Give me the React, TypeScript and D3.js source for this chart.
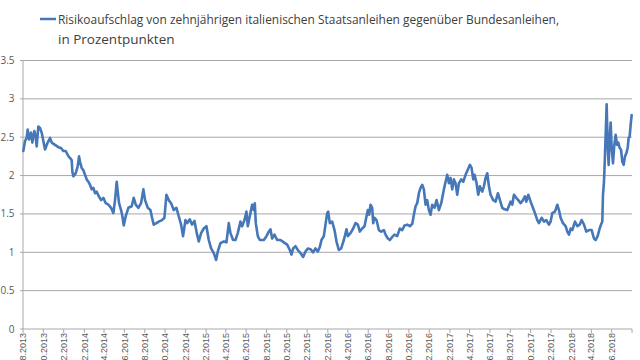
import React from "react";
import * as d3 from "d3";

const dates: string[] = [
  "2013-08-02","2013-08-07","2013-08-12","2013-08-15","2013-08-19","2013-08-25","2013-08-29","2013-09-04","2013-09-08","2013-09-11",
  "2013-09-16","2013-09-21","2013-09-26","2013-10-01","2013-10-06","2013-10-14","2013-10-21","2013-10-26","2013-11-05","2013-11-15",
  "2013-11-23","2013-11-30","2013-12-07","2013-12-13","2013-12-17","2013-12-22","2013-12-25","2013-12-27","2013-12-30","2014-01-06",
  "2014-01-12","2014-01-16","2014-01-19","2014-01-24","2014-01-29","2014-02-03","2014-02-08","2014-02-13","2014-02-18","2014-02-23",
  "2014-02-28","2014-03-05","2014-03-10","2014-03-15","2014-03-23","2014-03-30","2014-04-06","2014-04-14","2014-04-22","2014-04-29",
  "2014-05-04","2014-05-09","2014-05-12","2014-05-16","2014-05-22","2014-05-26","2014-05-30","2014-06-05","2014-06-13","2014-06-23",
  "2014-06-29","2014-07-05","2014-07-13","2014-07-21","2014-07-28","2014-08-02","2014-08-10","2014-08-18","2014-08-23","2014-08-28",
  "2014-09-05","2014-09-12","2014-09-22","2014-09-29","2014-10-05","2014-10-12","2014-10-19","2014-10-27","2014-11-04","2014-11-11",
  "2014-11-18","2014-11-24","2014-12-01","2014-12-06","2014-12-14","2014-12-21","2014-12-28","2015-01-05","2015-01-10","2015-01-17",
  "2015-01-25","2015-02-02","2015-02-09","2015-02-16","2015-02-24","2015-03-03","2015-03-08","2015-03-16","2015-03-26","2015-04-03",
  "2015-04-10","2015-04-15","2015-04-23","2015-04-30","2015-05-07","2015-05-15","2015-05-20","2015-05-27","2015-06-02","2015-06-06",
  "2015-06-12","2015-06-19","2015-06-24","2015-06-27","2015-06-30","2015-07-06","2015-07-12","2015-07-24","2015-08-01","2015-08-08",
  "2015-08-13","2015-08-18","2015-08-25","2015-09-02","2015-09-12","2015-09-22","2015-10-02","2015-10-10","2015-10-15","2015-10-20",
  "2015-10-27","2015-11-03","2015-11-11","2015-11-19","2015-11-26","2015-12-03","2015-12-11","2015-12-19","2015-12-26","2016-01-02",
  "2016-01-08","2016-01-13","2016-01-20","2016-01-25","2016-01-30","2016-02-02","2016-02-07","2016-02-14","2016-02-21","2016-02-27",
  "2016-03-05","2016-03-12","2016-03-20","2016-03-28","2016-04-01","2016-04-09","2016-04-17","2016-04-24","2016-05-01","2016-05-07",
  "2016-05-14","2016-05-21","2016-05-27","2016-05-31","2016-06-04","2016-06-08","2016-06-13","2016-06-16","2016-06-20","2016-06-26",
  "2016-07-03","2016-07-10","2016-07-18","2016-07-23","2016-07-30","2016-08-05","2016-08-12","2016-08-19","2016-08-27","2016-09-04",
  "2016-09-11","2016-09-18","2016-09-26","2016-10-04","2016-10-11","2016-10-16","2016-10-21","2016-10-26","2016-10-31","2016-11-05",
  "2016-11-10","2016-11-15","2016-11-20","2016-11-25","2016-11-30","2016-12-05","2016-12-10","2016-12-17","2016-12-23","2016-12-30",
  "2017-01-06","2017-01-14","2017-01-19","2017-01-24","2017-01-29","2017-02-03","2017-02-08","2017-02-13","2017-02-18","2017-02-23",
  "2017-02-28","2017-03-07","2017-03-13","2017-03-20","2017-03-27","2017-04-02","2017-04-07","2017-04-12","2017-04-16","2017-04-22",
  "2017-04-27","2017-05-02","2017-05-09","2017-05-14","2017-05-19","2017-05-24","2017-05-29","2017-06-03","2017-06-11","2017-06-18",
  "2017-06-25","2017-07-01","2017-07-08","2017-07-15","2017-07-23","2017-08-02","2017-08-07","2017-08-12","2017-08-19","2017-08-25",
  "2017-09-01","2017-09-08","2017-09-14","2017-09-18","2017-09-24","2017-10-01","2017-10-08","2017-10-14","2017-10-21","2017-10-26",
  "2017-11-03","2017-11-10","2017-11-17","2017-11-25","2017-11-30","2017-12-05","2017-12-13","2017-12-20","2017-12-25","2017-12-30",
  "2018-01-06","2018-01-14","2018-01-19","2018-01-24","2018-01-29","2018-02-03","2018-02-11","2018-02-18","2018-02-25","2018-03-03",
  "2018-03-10","2018-03-17","2018-03-25","2018-04-02","2018-04-09","2018-04-14","2018-04-20","2018-04-26","2018-04-30","2018-05-04",
  "2018-05-06","2018-05-09","2018-05-12","2018-05-14","2018-05-17","2018-05-20","2018-05-23","2018-05-26","2018-05-29","2018-06-01",
  "2018-06-05","2018-06-09","2018-06-13","2018-06-17","2018-06-21","2018-06-25","2018-06-29","2018-07-03","2018-07-07","2018-07-11",
  "2018-07-15","2018-07-19","2018-07-22","2018-07-25","2018-07-28","2018-07-31",
];

const spread: number[] = [
  2.32,2.45,2.49,2.60,2.47,2.56,2.43,2.58,2.51,2.38,
  2.64,2.62,2.56,2.45,2.34,2.43,2.49,2.43,2.40,2.37,
  2.36,2.32,2.32,2.27,2.24,2.22,2.20,2.05,1.99,2.03,
  2.12,2.25,2.18,2.10,2.07,2.01,1.95,1.92,1.88,1.82,
  1.84,1.77,1.79,1.74,1.68,1.71,1.64,1.62,1.58,1.51,
  1.68,1.92,1.79,1.64,1.55,1.47,1.35,1.47,1.58,1.60,
  1.71,1.62,1.58,1.64,1.82,1.68,1.58,1.55,1.45,1.36,
  1.38,1.40,1.42,1.45,1.75,1.68,1.64,1.55,1.58,1.47,
  1.36,1.21,1.42,1.38,1.43,1.36,1.41,1.23,1.14,1.25,
  1.31,1.34,1.16,1.05,0.99,0.90,1.01,1.12,1.14,1.13,
  1.38,1.25,1.16,1.16,1.25,1.40,1.34,1.42,1.53,1.34,
  1.47,1.62,1.55,1.64,1.38,1.21,1.16,1.16,1.21,1.27,
  1.30,1.18,1.23,1.16,1.16,1.13,1.10,1.03,0.97,1.05,
  1.08,1.03,0.99,0.94,1.01,1.05,1.04,1.00,1.05,1.01,
  1.07,1.16,1.21,1.36,1.51,1.53,1.38,1.40,1.29,1.14,
  1.03,1.05,1.16,1.30,1.21,1.25,1.31,1.38,1.36,1.27,
  1.31,1.34,1.47,1.55,1.49,1.62,1.58,1.38,1.45,1.42,
  1.29,1.27,1.29,1.23,1.18,1.16,1.20,1.23,1.21,1.31,
  1.29,1.35,1.36,1.34,1.37,1.49,1.60,1.64,1.77,1.84,
  1.88,1.82,1.62,1.68,1.55,1.49,1.62,1.58,1.68,1.55,
  1.64,1.82,1.92,2.01,1.90,1.97,1.82,1.95,1.90,1.75,
  1.90,1.95,1.92,2.01,2.08,2.14,2.10,1.95,2.01,1.90,
  1.75,1.86,1.79,1.86,1.97,2.03,1.86,1.75,1.68,1.66,
  1.77,1.68,1.58,1.56,1.55,1.66,1.62,1.75,1.71,1.68,
  1.64,1.68,1.73,1.66,1.75,1.66,1.58,1.51,1.42,1.38,
  1.45,1.40,1.42,1.36,1.40,1.51,1.53,1.62,1.55,1.45,
  1.38,1.34,1.27,1.23,1.31,1.29,1.40,1.34,1.36,1.42,
  1.36,1.27,1.29,1.29,1.18,1.16,1.21,1.31,1.36,1.40,
  1.75,1.92,2.27,2.53,2.93,2.40,2.14,2.49,2.69,2.36,
  2.16,2.40,2.53,2.40,2.43,2.36,2.34,2.18,2.14,2.25,
  2.29,2.36,2.49,2.51,2.66,2.79,
];

const yTicks: number[] = [0, 0.5, 1, 1.5, 2, 2.5, 3, 3.5];

const xTickDates: string[] = [
  "2013-08-01","2013-10-01","2013-12-01","2014-02-01","2014-04-01","2014-06-01","2014-08-01","2014-10-01",
  "2014-12-01","2015-02-01","2015-04-01","2015-06-01","2015-08-01","2015-10-01","2015-12-01","2016-02-01",
  "2016-04-01","2016-06-01","2016-08-01","2016-10-01","2016-12-01","2017-02-01","2017-04-01","2017-06-01",
  "2017-08-01","2017-10-01","2017-12-01","2018-02-01","2018-04-01","2018-06-01","2018-08-01",
];
const xTickLabels: string[] = [
  "01.08.2013","01.10.2013","01.12.2013","01.02.2014","01.04.2014","01.06.2014","01.08.2014","01.10.2014",
  "01.12.2014","01.02.2015","01.04.2015","01.06.2015","01.08.2015","01.10.2015","01.12.2015","01.02.2016",
  "01.04.2016","01.06.2016","01.08.2016","01.10.2016","01.12.2016","01.02.2017","01.04.2017","01.06.2017",
  "01.08.2017","01.10.2017","01.12.2017","01.02.2018","01.04.2018","01.06.2018","",
];

const legendLine1 = "Risikoaufschlag von zehnjährigen italienischen Staatsanleihen gegenüber Bundesanleihen,";
const legendLine2 = "in Prozentpunkten";

const W = 640;
const H = 360;
const plot = { left: 23, right: 632, top: 60.5, bottom: 329 };
const LINE = "#4677b8";
const GRID = "#a8a8a8";
const AXIS_TEXT = "#595959";
const FONT = "'Open Sans', 'Liberation Sans', sans-serif";
const TICK_FONT = "'Liberation Sans', Arial, sans-serif";

export default function App() {
  const parse = d3.timeParse("%Y-%m-%d");
  const data = dates.map((d, i) => ({ date: parse(d) as Date, value: spread[i] }));
  const tickDates = xTickDates.map((d) => parse(d) as Date);

  const x = d3
    .scaleTime()
    .domain([tickDates[0], tickDates[tickDates.length - 1]])
    .range([plot.left, plot.right]);
  const y = d3.scaleLinear().domain([0, 3.5]).range([plot.bottom, plot.top]);

  const line = d3
    .line<{ date: Date; value: number }>()
    .x((d) => x(d.date))
    .y((d) => y(d.value))
    .curve(d3.curveLinear);

  return (
    <svg
      width={W}
      height={H}
      viewBox={`0 0 ${W} ${H}`}
      style={{ position: "absolute", left: 0, top: 0, background: "#fff" }}
    >
      <rect x={0} y={0} width={W} height={H} fill="#fff" />
      {/* legend */}
      <line x1={40} x2={56} y1={19} y2={19} stroke={LINE} strokeWidth={2.5} />
      <text
        x={58}
        y={23.5}
        fontFamily={FONT}
        fontSize={13.5}
        fill="#404040"
        textLength={501}
        lengthAdjust="spacingAndGlyphs"
      >
        {legendLine1}
      </text>
      <text x={58} y={43.5} fontFamily={FONT} fontSize={13.5} fill="#404040">
        {legendLine2}
      </text>

      {/* gridlines */}
      {yTicks.map((t) =>
        t === 0 ? null : (
          <line
            key={"g" + t}
            x1={plot.left}
            x2={plot.right}
            y1={y(t)}
            y2={y(t)}
            stroke={GRID}
            strokeWidth={1}
          />
        )
      )}
      {/* y axis */}
      <line x1={plot.left} x2={plot.left} y1={plot.top} y2={plot.bottom} stroke={GRID} strokeWidth={1} />
      {yTicks.map((t) => (
        <g key={"y" + t}>
          <line x1={plot.left - 3} x2={plot.left} y1={y(t)} y2={y(t)} stroke={GRID} />
          <text
            x={14.5}
            y={y(t)}
            dy="0.35em"
            textAnchor="end"
            fontFamily={FONT}
            fontSize={10}
            fill={AXIS_TEXT}
          >
            {String(t)}
          </text>
        </g>
      ))}
      {/* x axis */}
      <line x1={plot.left} x2={plot.right} y1={plot.bottom} y2={plot.bottom} stroke={GRID} strokeWidth={1} />
      {tickDates.map((d, i) => (
        <g key={"x" + i}>
          <line x1={x(d)} x2={x(d)} y1={plot.bottom} y2={plot.bottom + 4} stroke={GRID} />
          {xTickLabels[i] ? (
            <text
              transform={`translate(${x(d)},${plot.bottom + 4}) rotate(-90)`}
              dy="0.35em"
              textAnchor="end"
              fontFamily={TICK_FONT}
              fontSize={9}
              fill={AXIS_TEXT}
            >
              {xTickLabels[i]}
            </text>
          ) : null}
        </g>
      ))}

      {/* series */}
      <path
        d={line(data) || ""}
        fill="none"
        stroke={LINE}
        strokeWidth={2.6}
        strokeLinejoin="round"
        strokeLinecap="round"
      />
    </svg>
  );
}
